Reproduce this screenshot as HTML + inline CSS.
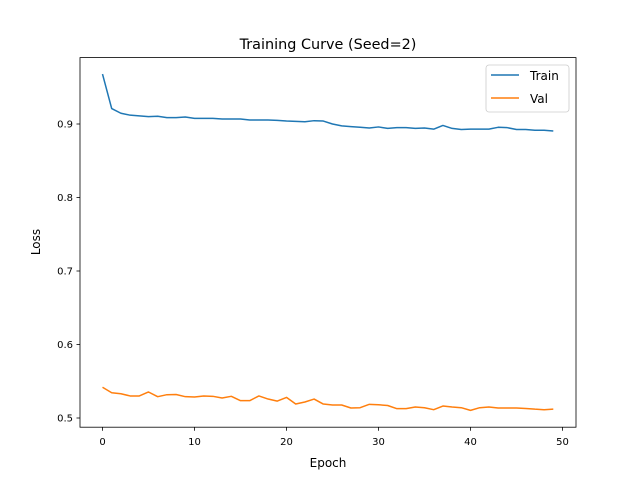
<!DOCTYPE html>
<html><head><meta charset="utf-8"><style>
body{margin:0;background:#fff}
svg text{font-family:"DejaVu Sans","Liberation Sans",sans-serif;fill:#000}
</style></head><body>
<svg id="chart" width="640" height="480" xmlns="http://www.w3.org/2000/svg">
<rect width="640" height="480" fill="#fff"/>
<text x="328" y="49" font-size="14.4" text-anchor="middle">Training Curve (Seed=2)</text>
<g id="plot"></g>
<rect x="80" y="57.6" width="496" height="369.6" fill="none" stroke="#000" stroke-width="0.8"/>
<text x="328" y="467" font-size="12" text-anchor="middle">Epoch</text>
<text x="40" y="242" font-size="12" text-anchor="middle" transform="rotate(-90 40 242)">Loss</text>
<g>
<rect x="486" y="65" width="83" height="47" rx="3" fill="#fff" fill-opacity="0.8" stroke="#ccc" stroke-width="0.8"/>
<line x1="491" y1="75" x2="519" y2="75" stroke="#1f77b4" stroke-width="1.5"/>
<text x="530" y="80" font-size="12">Train</text>
<line x1="491" y1="98" x2="519" y2="98" stroke="#ff7f0e" stroke-width="1.5"/>
<text x="530" y="103" font-size="12">Val</text>
</g>
</svg>
<script>
const epochs=[...Array(50).keys()];
const trainLoss=[0.968,0.921,0.9146,0.912,0.911,0.910,0.9105,0.9086,0.9086,0.9095,0.9077,0.9077,0.9077,0.9068,0.9068,0.9068,0.9054,0.9055,0.9055,0.905,0.904,0.9035,0.903,0.9045,0.904,0.9,0.8975,0.8965,0.8955,0.8945,0.896,0.894,0.895,0.895,0.894,0.8945,0.893,0.898,0.894,0.8925,0.893,0.893,0.893,0.8955,0.895,0.8925,0.8925,0.8915,0.8915,0.8905];
const valLoss=[0.5418,0.5344,0.533,0.530,0.530,0.5354,0.529,0.5317,0.532,0.529,0.5286,0.530,0.5295,0.5272,0.5295,0.5236,0.5236,0.530,0.5258,0.523,0.528,0.519,0.5218,0.5258,0.519,0.5177,0.5177,0.5136,0.514,0.5186,0.518,0.517,0.5127,0.5127,0.515,0.514,0.5113,0.5163,0.515,0.514,0.5104,0.514,0.515,0.5136,0.5136,0.5136,0.513,0.512,0.5113,0.512];
const xTicks=[0,10,20,30,40,50];
const yTicks=[0.5,0.6,0.7,0.8,0.9];
const NS="http://www.w3.org/2000/svg";
const xs=v=>102.5+v*9.2;
const ys=v=>124-(v-0.9)*735;
const g=document.getElementById('plot');
function mk(t,a){const e=document.createElementNS(NS,t);for(const k in a)e.setAttribute(k,a[k]);g.appendChild(e);return e;}
xTicks.forEach(t=>{
  const l=mk('line',{x1:xs(t),x2:xs(t),y1:427.2,y2:430.7,stroke:'#000','stroke-width':0.8});
  
  
  const tx=mk('text',{x:xs(t),y:445,'font-size':10,'text-anchor':'middle'});
  
  
  tx.textContent=t;
});
yTicks.forEach(t=>{
  const l=mk('line',{x1:76.5,x2:80,y1:ys(t),y2:ys(t),stroke:'#000','stroke-width':0.8});
  
  
  const tx=mk('text',{x:73,y:ys(t)+3.6,'font-size':10,'text-anchor':'end'});
  
  
  tx.textContent=t.toFixed(1);
});
function line(data,color,name){
  const p=mk('polyline',{points:data.map((v,i)=>xs(epochs[i])+','+ys(v)).join(' '),fill:'none',stroke:color,'stroke-width':1.5,'stroke-linejoin':'round'});
  
  
}
line(trainLoss,'#1f77b4','train-line');
line(valLoss,'#ff7f0e','val-line');
</script>
</body></html>
